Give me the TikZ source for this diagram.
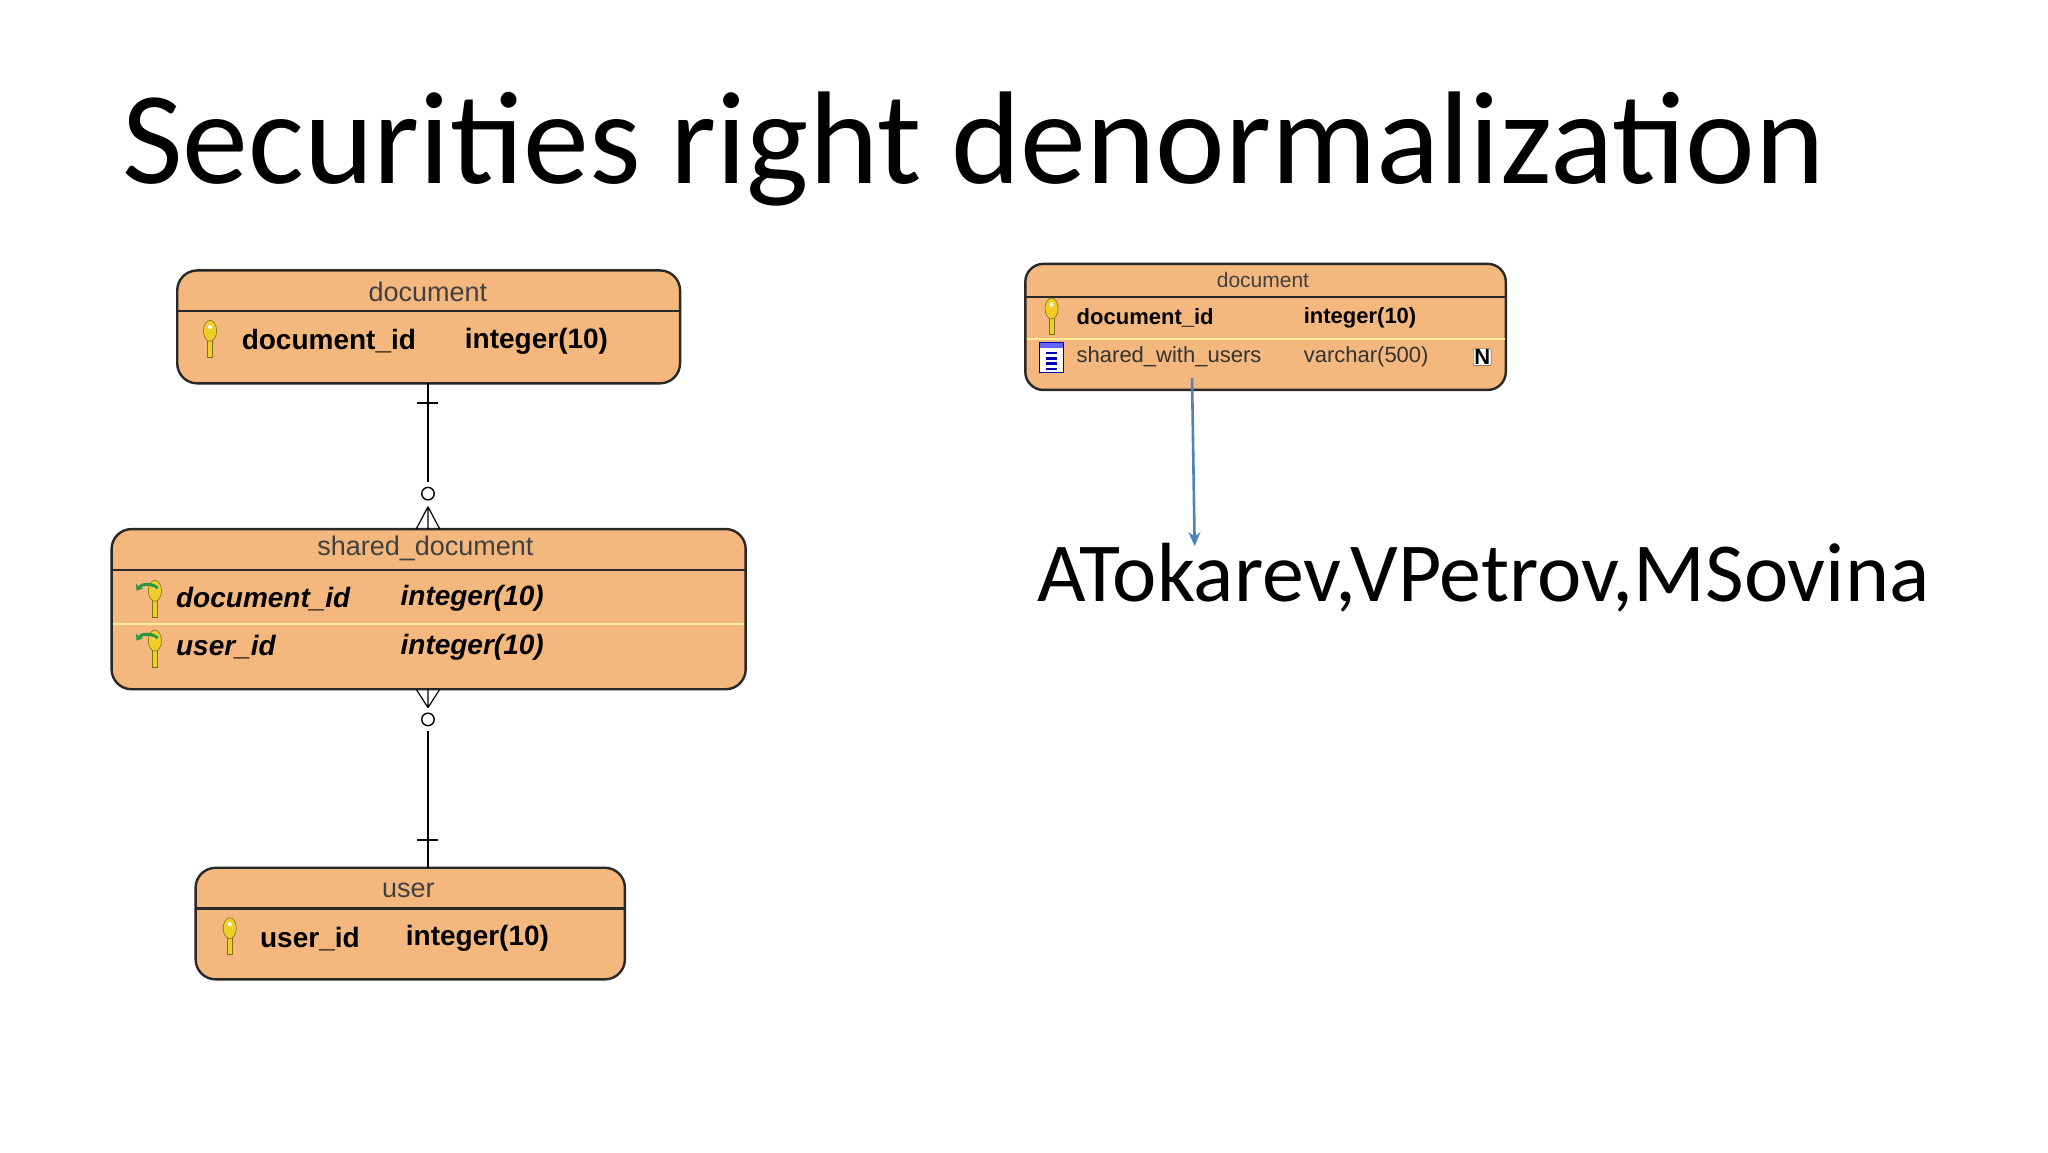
\documentclass[tikz,border=0pt]{standalone}
\usepackage{fontspec}
\setmainfont{Carlito}
\newfontfamily\arial{Liberation Sans}
\usetikzlibrary{fit,arrows.meta}
\definecolor{tblfill}{RGB}{244,184,126}
\definecolor{tbldraw}{RGB}{40,40,40}
\definecolor{sepyel}{RGB}{255,236,150}
\definecolor{keyyel}{RGB}{240,205,40}
\definecolor{arrblue}{RGB}{79,129,189}
\definecolor{fkgreen}{RGB}{40,150,60}
\tikzset{
  tbl/.style={draw=tbldraw, line width=2.4pt, fill=tblfill, rounded corners=20pt, inner sep=0pt},
  tbltitle/.style={font=\arial\fontsize{27}{30}\selectfont, text=black!75, inner sep=0pt},
  colbold/.style={font=\arial\bfseries\fontsize{28}{32}\selectfont, anchor=west, inner sep=0pt},
  colit/.style={font=\arial\bfseries\itshape\fontsize{28}{32}\selectfont, anchor=west, inner sep=0pt},
  colbolds/.style={font=\arial\bfseries\fontsize{22}{26}\selectfont, anchor=west, inner sep=0pt},
  colnorms/.style={font=\arial\fontsize{22}{26}\selectfont, anchor=west, inner sep=0pt, text=black!80},
  rel/.style={draw=black, line width=1.6pt},
  keyic/.pic={
    \fill[keyyel, draw=olive!80!black, line width=0.6pt] (-2,0) rectangle (2,14);
    \fill[keyyel, draw=olive!80!black, line width=0.6pt] (0,-6) ellipse (5 and 8);
    \fill[white] (0,-9) circle (1.6);
  },
  fkic/.pic={
    \pic at (2,0) {keyic};
    \draw[fkgreen, line width=3pt, -{Stealth[length=6pt,width=9pt]}] (4,-8) to[bend right=50] (-12,-6);
  }
}
\begin{document}
\begin{tikzpicture}[x=1.313pt,y=-1.313pt]
\useasboundingbox (0,0) rectangle (1560,877.7);
\fill[white] (0,0) rectangle (1560,877.7);

\node[anchor=base west, inner sep=0pt, font=\fontsize{132}{150}\selectfont] (title) at (93,140) {Securities right denormalization};

% document (left)
\node[tbl, fit={(135,206)(518,292)}] (doc1) {};
\draw[tbldraw, line width=2.4pt] (135,237) -- (518,237);
\node[tbltitle] (doc1t) at (326,222) {document};
\pic at (160,258) {keyic};
\node[colbold] (doc1c1) at (184,260) {document\_id};
\node[colbold] (doc1c2) at (354,260) {integer(10)};

% shared_document
\node[tbl, fit={(85,403)(568,525)}] (sd) {};
\draw[tbldraw, line width=2.4pt] (85,434) -- (568,434);
\draw[sepyel, line width=2pt] (86,475) -- (567,475);
\node[tbltitle] (sdt) at (324,418) {shared\_document};
\pic at (116,456) {fkic};
\pic at (116,494) {fkic};
\node[colit] (sdc1) at (134,456) {document\_id};
\node[colit] (sdc2) at (305,456) {integer(10)};
\node[colit] (sdc3) at (134,493) {user\_id};
\node[colit] (sdc4) at (305,493) {integer(10)};

% user
\node[tbl, fit={(149,661)(476,746)}] (user) {};
\draw[tbldraw, line width=2.4pt] (149,692) -- (476,692);
\node[tbltitle] (usert) at (311,678) {user};
\pic at (175,713) {keyic};
\node[colbold] (userc1) at (198,715) {user\_id};
\node[colbold] (userc2) at (309,715) {integer(10)};

% relationships
\coordinate (r1a) at (326,292);
\coordinate (r1b) at (326,367);
\coordinate (r1f) at (326,386);
\draw[rel] (r1a) -- (r1b);
\draw[rel] (318,307) -- (334,307);
\node[draw, circle, line width=1.4pt, minimum size=12.5pt, inner sep=0pt, fill=white] (c1) at (326,376) {};
\draw[rel, line width=1.2pt] (r1f) -- (317,403) (r1f) -- (326,403) (r1f) -- (335,403);

\coordinate (r2f) at (326,539);
\coordinate (r2b) at (326,557);
\coordinate (r2a) at (326,661);
\draw[rel, line width=1.2pt] (317,525) -- (r2f) (326,525) -- (r2f) (335,525) -- (r2f);
\node[draw, circle, line width=1.4pt, minimum size=12.5pt, inner sep=0pt, fill=white] (c2) at (326,548) {};
\draw[rel] (r2b) -- (r2a);
\draw[rel] (318,640) -- (334,640);

% document (right)
\node[tbl, fit={(781,201)(1147,297)}, rounded corners=18pt] (doc2) {};
\draw[tbldraw, line width=2.4pt] (781,226) -- (1147,226);
\draw[sepyel, line width=2pt] (782,258) -- (1146,258);
\node[tbltitle, font=\arial\fontsize{21}{24}\selectfont] (doc2t) at (962,213) {document};
\begin{scope}[shift={(801,241)}, scale=0.8]
\pic {keyic};
\end{scope}
\node[colbolds] (doc2c1) at (820,242) {document\_id};
\node[colbolds] (doc2c2) at (993,242) {integer(10)};
\fill[white, draw=blue!70!black, line width=0.8pt] (792,261) rectangle (810,284);
\fill[blue!60] (792,261) rectangle (810,265);
\foreach \yy in {268,272,276,280} \fill[blue!70!black] (797,\yy) rectangle (805,\yy+2);
\node[colnorms] (doc2c3) at (820,272) {shared\_with\_users};
\node[colnorms] (doc2c4) at (993,272) {varchar(500)};
\node[draw=black!70, fill=white, rounded corners=2pt, inner sep=1pt, font=\arial\bfseries\fontsize{22}{24}\selectfont] (nnull) at (1129,272) {N};

% arrow and value
\coordinate (arrs) at (908,288);
\coordinate (arre) at (910,416);
\draw[arrblue, line width=2.6pt, -{Stealth[length=14pt,width=12pt]}] (arrs) -- (arre);
\node[anchor=base west, inner sep=0pt, font=\fontsize{84}{96}\selectfont] (val) at (790,458) {ATokarev,VPetrov,MSovina};
\end{tikzpicture}
\end{document}
